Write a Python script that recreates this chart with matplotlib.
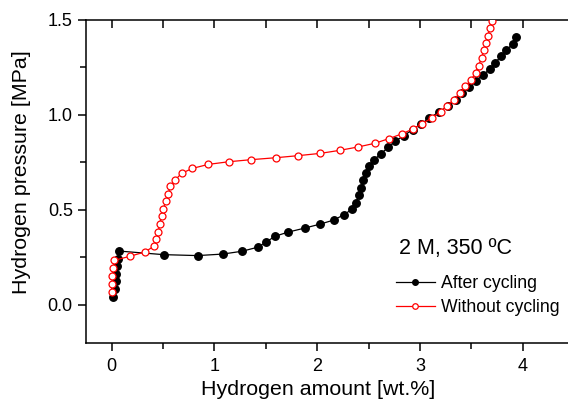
import numpy as np
import matplotlib
matplotlib.use("Agg")
import matplotlib.pyplot as plt
from matplotlib.ticker import MultipleLocator

plt.rcParams['font.family'] = ['Liberation Sans', 'DejaVu Sans']

# PCT isotherm, after cycling (wt.%, MPa)
after_x = [0.013, 0.03, 0.04, 0.045, 0.055, 0.06, 0.068, 0.505, 0.835, 1.08,
           1.27, 1.42, 1.505, 1.59, 1.72, 1.88, 2.03, 2.16, 2.26, 2.34, 2.38,
           2.41, 2.43, 2.45, 2.47, 2.50, 2.55, 2.62, 2.69, 2.76, 2.84, 2.93,
           3.01, 3.09, 3.18, 3.27, 3.35, 3.41, 3.48, 3.54, 3.61, 3.68, 3.73,
           3.79, 3.84, 3.90, 3.93]
after_p = [0.044, 0.084, 0.125, 0.163, 0.204, 0.242, 0.284, 0.265, 0.26, 0.268,
           0.283, 0.304, 0.332, 0.362, 0.384, 0.405, 0.426, 0.447, 0.475, 0.505,
           0.538, 0.579, 0.617, 0.656, 0.693, 0.732, 0.763, 0.796, 0.83, 0.862,
           0.891, 0.923, 0.953, 0.983, 1.014, 1.047, 1.079, 1.114, 1.146, 1.179,
           1.209, 1.242, 1.275, 1.309, 1.34, 1.374, 1.41]

# PCT isotherm, without cycling
fresh_x = [0.003, 0.003, 0.007, 0.013, 0.026, 0.175, 0.323, 0.41, 0.434, 0.453,
           0.466, 0.485, 0.50, 0.527, 0.55, 0.57, 0.618, 0.68, 0.786, 0.94,
           1.14, 1.36, 1.595, 1.815, 2.03, 2.22, 2.40, 2.56, 2.70, 2.82, 2.93,
           3.02, 3.12, 3.20, 3.26, 3.33, 3.39, 3.44, 3.50, 3.54, 3.57, 3.60,
           3.62, 3.64, 3.66, 3.68, 3.70]
fresh_p = [0.068, 0.112, 0.153, 0.195, 0.235, 0.256, 0.279, 0.309, 0.346, 0.384,
           0.426, 0.467, 0.505, 0.546, 0.584, 0.624, 0.658, 0.693, 0.719, 0.74,
           0.754, 0.765, 0.775, 0.786, 0.798, 0.814, 0.832, 0.851, 0.876, 0.90,
           0.926, 0.954, 0.986, 1.018, 1.047, 1.081, 1.117, 1.151, 1.186, 1.223,
           1.26, 1.302, 1.34, 1.38, 1.417, 1.458, 1.496]

fig = plt.figure(figsize=(5.68, 4.03), dpi=100)
ax = fig.add_axes([0.1514, 0.1489, 0.8486, 0.8015])

ax.plot(after_x, after_p, color='black', lw=0.9, marker='o', ms=5.4,
        mfc='black', mec='black', label='After cycling', zorder=3)
ax.plot(fresh_x, fresh_p, color='red', lw=0.9, marker='o', ms=5.0,
        mfc='white', mec='red', mew=0.9, label='Without cycling', zorder=4)

ax.set_xlim(-0.25, 4.44)
ax.set_ylim(-0.2, 1.5)
ax.xaxis.set_major_locator(MultipleLocator(1))
ax.xaxis.set_minor_locator(MultipleLocator(0.5))
ax.yaxis.set_major_locator(MultipleLocator(0.5))
ax.yaxis.set_minor_locator(MultipleLocator(0.25))
ax.yaxis.set_major_formatter(plt.FormatStrFormatter('%.1f'))

for s in ['left', 'bottom', 'top']:
    ax.spines[s].set_linewidth(1.1)
ax.spines['right'].set_visible(False)

ax.tick_params(which='major', direction='out', length=6, width=1.1,
               labelsize=13, colors='black')
ax.tick_params(axis='x', which='major', pad=5)
ax.tick_params(which='minor', direction='out', length=4, width=1.1)
ax.tick_params(which='both', top=True)
# top-axis ticks point into the frame, all the same length
for t in ax.xaxis.get_major_ticks() + ax.xaxis.get_minor_ticks():
    t.tick2line.set_marker(3)
    t.tick2line.set_markersize(6)

ax.set_xlabel('Hydrogen amount [wt.%]', fontsize=15.4)
ax.set_ylabel('Hydrogen pressure [MPa]', fontsize=15.4)
ax.xaxis.set_label_coords(0.481, -0.115)
ax.yaxis.set_label_coords(-0.114, 0.53)

ax.text(0.649, 0.291, '2 M, 350 ºC', transform=ax.transAxes, fontsize=15.5,
        ha='left', va='center')

leg = ax.legend(loc='upper left', bbox_to_anchor=(0.643, 0.209), frameon=False,
                fontsize=12.7, handlelength=2.2, handletextpad=0.34,
                labelspacing=0.38, borderpad=0.0, borderaxespad=0.0)
for h in leg.legend_handles:
    h.set_markersize(4)

fig.savefig('out.png', dpi=100)
